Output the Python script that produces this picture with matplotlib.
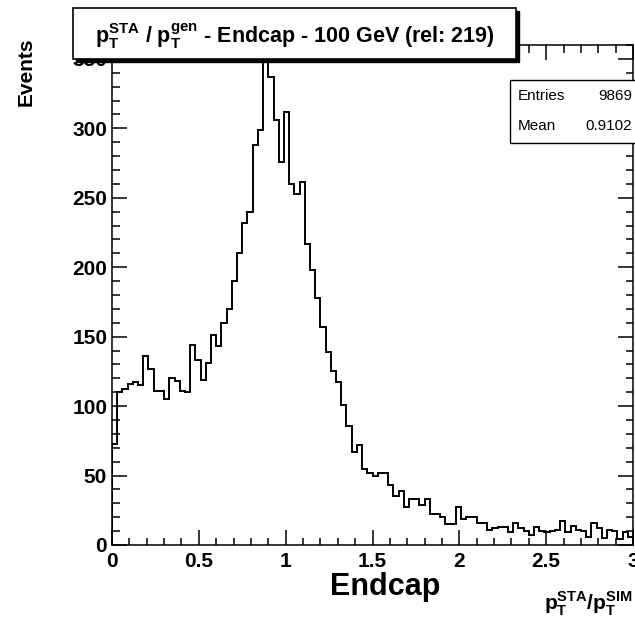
#Histogram of standalone muon pT resolution in the endcap, ROOT style

import numpy as np
import matplotlib
matplotlib.use('Agg')
import matplotlib.pyplot as plt
from matplotlib.patches import Rectangle
from matplotlib.ticker import MultipleLocator, FormatStrFormatter

plt.rcParams['font.family'] = ['Liberation Sans', 'DejaVu Sans']
plt.rcParams['mathtext.fontset'] = 'custom'
plt.rcParams['mathtext.rm'] = 'Liberation Sans'
plt.rcParams['mathtext.bf'] = 'Liberation Sans:bold'

# binning: 100 bins from 0 to 3
x_min, x_max, n_bins = 0.0, 3.0, 100

# bin contents
counts_low = [73, 110, 112, 116, 117, 115, 136, 127, 111, 111,
              105, 120, 118, 111, 110, 144, 133, 119, 131, 151,
              143, 160, 170, 190, 210, 232, 240, 288, 299, 350,
              337, 306, 276, 312, 260, 253, 261, 217, 198, 178]
counts_mid = [157, 139, 125, 117, 101, 86, 67, 72, 55, 52,
              50, 52, 52, 43, 35, 39, 27, 33, 33, 29,
              33, 22, 22, 20, 15, 15, 27, 19, 20, 20]
counts_tail = [16, 16, 11, 12, 13, 13, 9, 16, 12, 10,
               7, 13, 10, 9, 10, 11, 17, 9, 14, 11,
               10, 6, 16, 12, 5, 11, 10, 4, 9, 6]
counts = np.array(counts_low + counts_mid + counts_tail)

x_ticks = [0, 0.5, 1, 1.5, 2, 2.5, 3]
y_ticks = [0, 50, 100, 150, 200, 250, 300, 350]

title_text = (r'$\mathbf{p}_{\mathbf{T}}^{\mathbf{STA}}$ / '
              r'$\mathbf{p}_{\mathbf{T}}^{\mathbf{gen}}$ - Endcap - 100 GeV (rel: 219)')
xlabel_text = r'$\mathbf{p}_{\mathbf{T}}^{\mathbf{STA}}\mathbf{/p}_{\mathbf{T}}^{\mathbf{SIM}}$'
stats = [('Entries', '9869'), ('Mean', '0.9102')]


def main(output_file):
    fig = plt.figure(figsize=(6.35, 6.2), dpi=100)
    ax = fig.add_axes([0.1764, 0.121, 0.8205, 0.8065])

    edges = np.linspace(x_min, x_max, n_bins + 1)
    ax.stairs(counts, edges, baseline=0, color='black', lw=1.4)

    ax.set_xlim(x_min, x_max)
    ax.set_ylim(0, 360)
    ax.set_xticks(x_ticks)
    ax.set_yticks(y_ticks)
    ax.xaxis.set_minor_locator(MultipleLocator(0.1))
    ax.yaxis.set_minor_locator(MultipleLocator(10))
    ax.xaxis.set_major_formatter(FormatStrFormatter('%g'))

    for s in ax.spines.values():
        s.set_linewidth(1.1)
    ax.tick_params(which='both', direction='in', top=True, right=True, width=1.1)
    ax.tick_params(which='major', length=10.8)
    ax.tick_params(which='minor', length=5.4)
    ax.tick_params(axis='y', which='major', pad=3.5)
    ax.tick_params(axis='x', which='major', pad=5)
    for lbl in ax.get_xticklabels() + ax.get_yticklabels():
        lbl.set_fontsize(15)
        lbl.set_fontweight('bold')

    # title box with drop shadow
    bx, by, bw, bh = 0.115, 0.9048, 0.698, 0.0823
    fig.add_artist(Rectangle((bx + 0.0047, by - 0.0048), bw, bh, transform=fig.transFigure,
                             facecolor='black', edgecolor='black', lw=1))
    fig.add_artist(Rectangle((bx, by), bw, bh, transform=fig.transFigure,
                             facecolor='white', edgecolor='black', lw=1.2))
    fig.text(bx + bw / 2, by + bh / 2 - 0.005, title_text, ha='center', va='center',
             fontsize=15.5, fontweight='bold')

    # stats box
    sx, sy, sw, sh = 0.803, 0.7694, 0.2, 0.1016
    fig.add_artist(Rectangle((sx, sy), sw, sh, transform=fig.transFigure,
                             facecolor='white', edgecolor='black', lw=1))
    for i, (name, val) in enumerate(stats):
        yy = sy + sh * (0.74 - 0.47 * i)
        fig.text(sx + 0.012, yy, name, ha='left', va='center', fontsize=11)
        fig.text(0.996, yy, val, ha='right', va='center', fontsize=11)

    # axis titles
    fig.text(0.041, 1 - 37 / 620, 'Events', rotation=90, ha='center', va='top',
             fontsize=15, fontweight='bold')
    fig.text(0.997, 0.026, xlabel_text, ha='right', va='center', fontsize=15)
    fig.text(0.606, 0.0532, 'Endcap', ha='center', va='center',
             fontsize=22, fontweight='bold')

    fig.savefig(output_file, dpi=100)


if __name__ == "__main__":
    main('out.png')
